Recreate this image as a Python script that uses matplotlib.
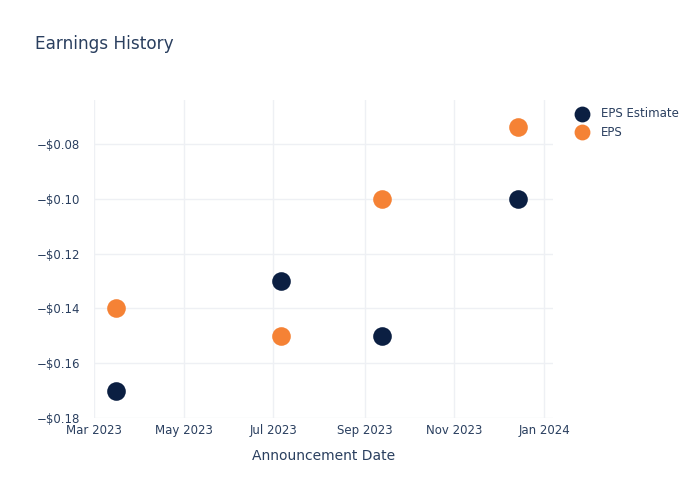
import matplotlib
matplotlib.use("Agg")
import matplotlib.pyplot as plt
import numpy as np
from datetime import datetime

dates = ["2023-03-16", "2023-07-06", "2023-09-13", "2023-12-14"]
eps_estimate = [-0.17, -0.13, -0.15, -0.10]
eps_actual = [-0.14, -0.15, -0.10, -0.074]
tick_dates = ["2023-03-01", "2023-05-01", "2023-07-01", "2023-09-01", "2023-11-01", "2024-01-01"]
tick_labels = ["Mar 2023", "May 2023", "Jul 2023", "Sep 2023", "Nov 2023", "Jan 2024"]
y_ticks = [-0.18, -0.16, -0.14, -0.12, -0.10, -0.08]

txt = "#2a3f5f"
navy = "#0b1f42"
orange = "#f58235"

x = [datetime.strptime(d, "%Y-%m-%d") for d in dates]
xt = [datetime.strptime(d, "%Y-%m-%d") for d in tick_dates]

fig = plt.figure(figsize=(7, 5), dpi=100)
ax = fig.add_axes([0.134, 0.164, 0.656, 0.636])

ax.scatter(x, eps_estimate, s=180, color=navy, label="EPS Estimate", zorder=3, linewidths=0)
ax.scatter(x, eps_actual, s=180, color=orange, label="EPS", zorder=3, linewidths=0)

ax.set_xlim(datetime(2023, 3, 1), datetime(2024, 1, 7))
ax.set_ylim(-0.18, -0.064)
ax.set_xticks(xt)
ax.set_xticklabels(tick_labels)
ax.set_yticks(y_ticks)
ax.set_yticklabels([f"\u2212${abs(v):.2f}" for v in y_ticks])

for s in ax.spines.values():
    s.set_visible(False)
ax.grid(True, color="#eef0f4", linewidth=1)
ax.set_axisbelow(True)
ax.tick_params(axis="both", length=0, labelsize=8.5, colors=txt)
ax.tick_params(axis="y", pad=10)
ax.tick_params(axis="x", pad=4)
ax.set_xlabel("Announcement Date", fontsize=10, color=txt, labelpad=9)

fig.text(35/700, 1 - 44/500, "Earnings History", fontsize=12.2, color=txt, va="center", ha="left")

leg = fig.legend(loc="upper left", bbox_to_anchor=(0.80, 0.808), frameon=False,
                 fontsize=8.5, labelcolor=txt, handletextpad=0.6, labelspacing=0.5,
                 markerscale=0.85)

fig.savefig("out.png", dpi=100)
